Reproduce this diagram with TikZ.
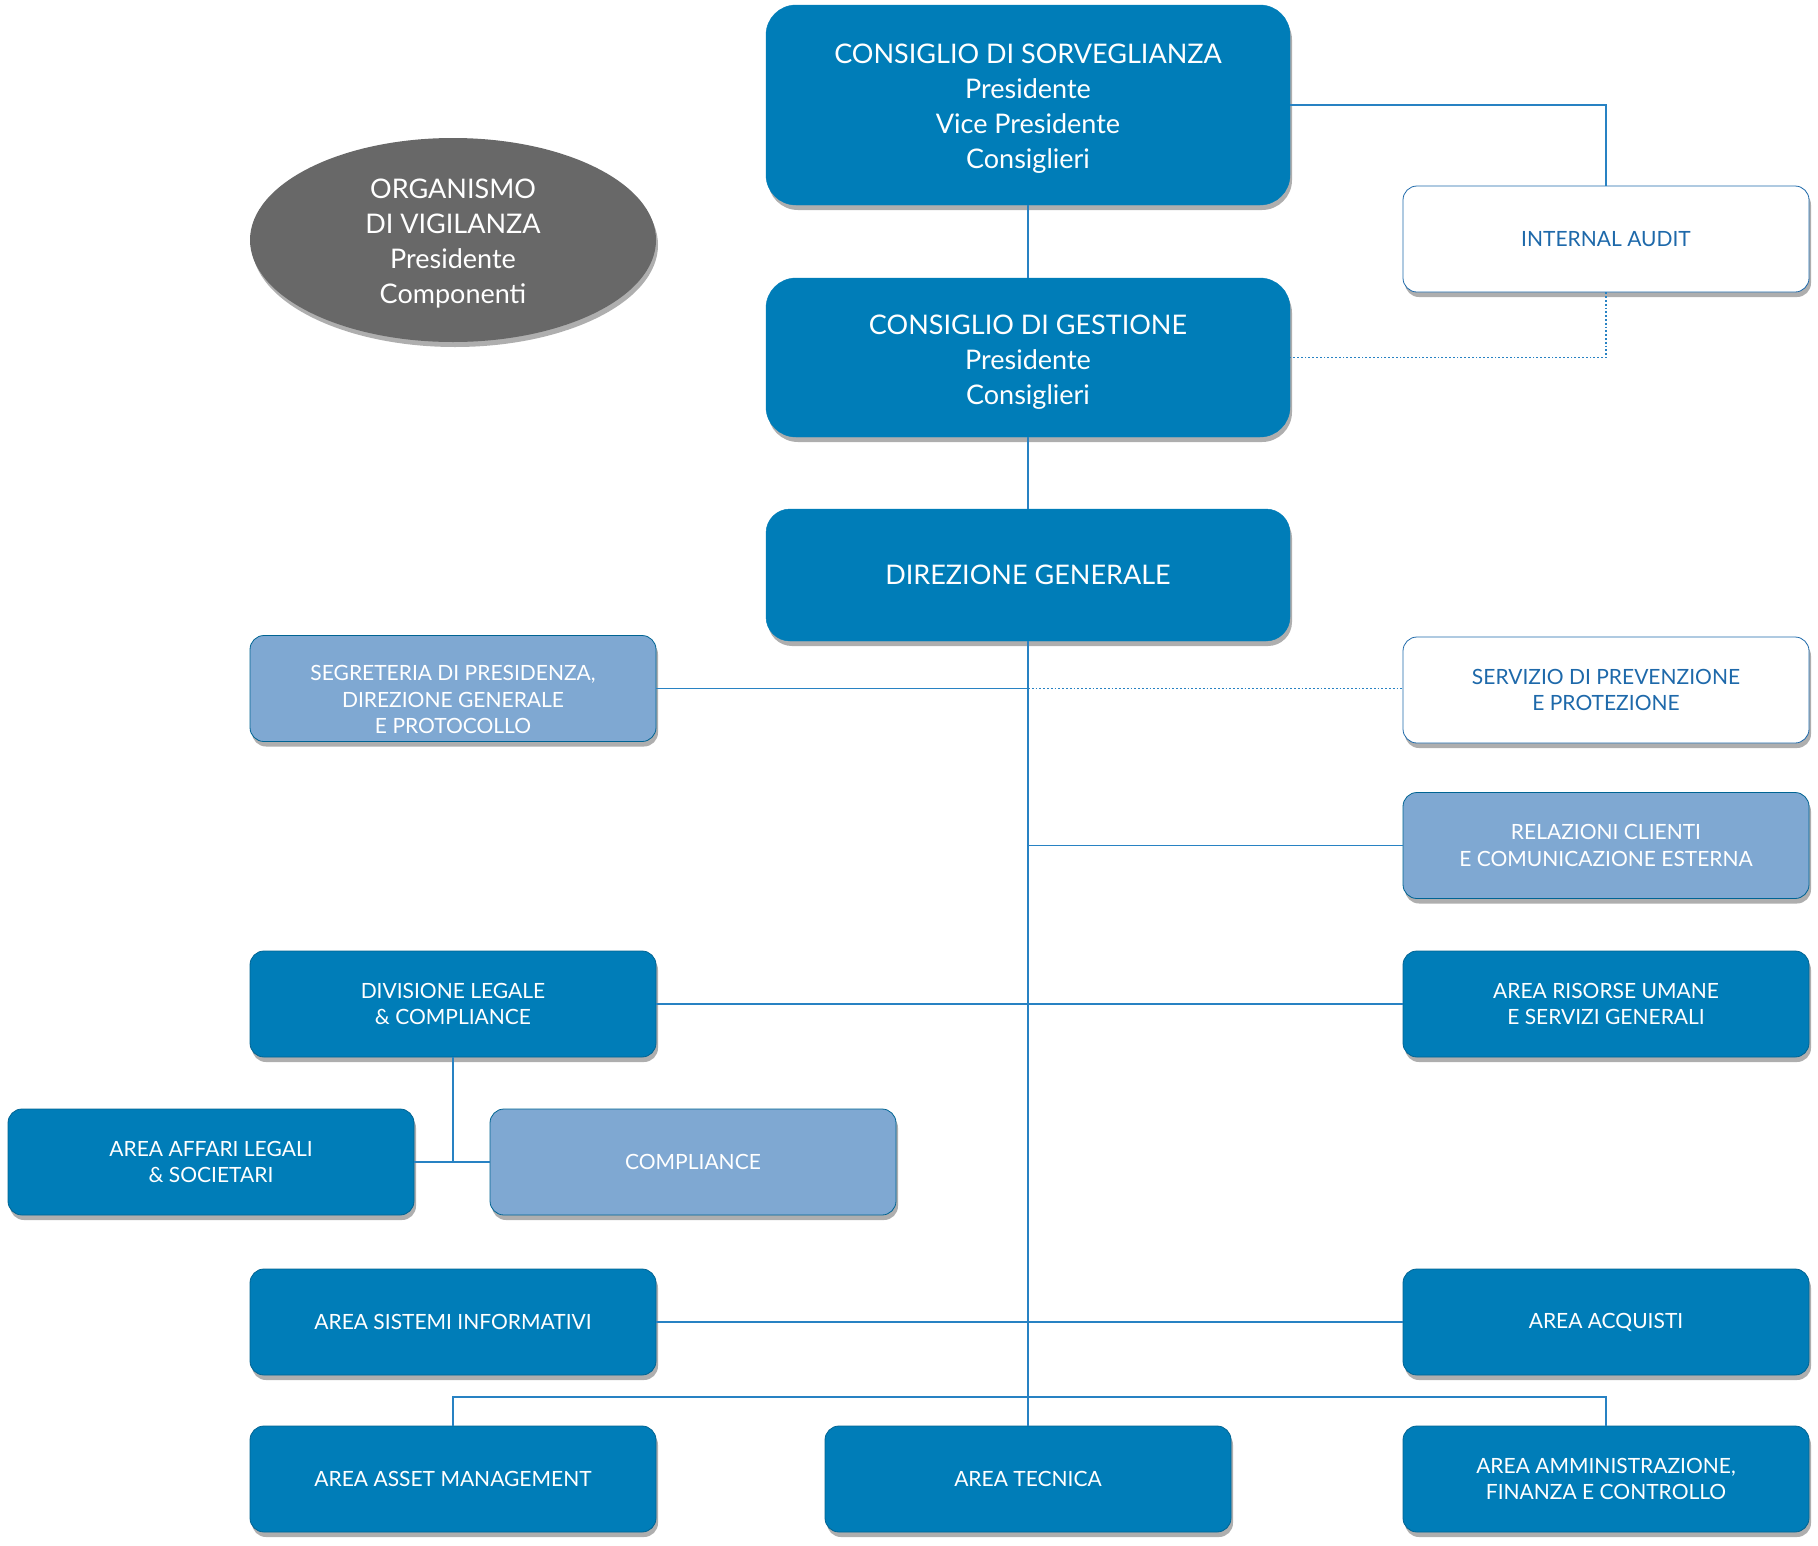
\documentclass[tikz,border=0pt]{standalone}
\usepackage{fontspec}
\setmainfont{Lato}
\usetikzlibrary{shapes.geometric,shadows,calc}
\definecolor{dkblue}{RGB}{0,125,184}
\definecolor{ltblue}{RGB}{127,168,210}
\definecolor{lnblue}{RGB}{40,130,195}
\definecolor{txblue}{RGB}{30,105,170}
\definecolor{orggray}{RGB}{104,104,104}
\newcommand{\downtext}[3]{\parbox{#1}{\vspace*{#2}\centering #3}}
\begin{document}
\begin{tikzpicture}[x=1pt,y=-1pt,
  shad/.style={drop shadow={shadow xshift=2pt,shadow yshift=-5pt,opacity=0.45,fill=black!70}},
  bigbox/.style={shad,rectangle,rounded corners=30pt,fill=dkblue,draw=dkblue,text=white,
     minimum width=524pt,align=center,font=\fontsize{27}{35}\selectfont},
  smallbox/.style={shad,rectangle,rounded corners=14pt,draw=dkblue!80!black,line width=0.8pt,
     minimum width=406pt,minimum height=106pt,align=center,font=\fontsize{21}{26.5}\selectfont},
  dkbox/.style={smallbox,fill=dkblue,text=white},
  ltbox/.style={smallbox,fill=ltblue,text=white},
  whbox/.style={smallbox,fill=white,text=txblue,draw=txblue},
  conn/.style={draw=lnblue,line width=1.4pt},
  dconn/.style={draw=lnblue,line width=1.8pt,dotted}]
\useasboundingbox (0,0) rectangle (1818,1545);
\fill[white] (0,0) rectangle (1818,1545);

% top
\node[bigbox,minimum height=200pt] (cds) at (1028,105)
  {\downtext{500pt}{7pt}{CONSIGLIO DI SORVEGLIANZA\\Presidente\\Vice Presidente\\Consiglieri}};
\node[bigbox,minimum height=159pt] (cdg) at (1028,357.5)
  {\downtext{500pt}{9pt}{CONSIGLIO DI GESTIONE\\Presidente\\Consiglieri}};
\node[bigbox,minimum height=132pt,rounded corners=24pt] (dg) at (1028,575)
  {DIREZIONE GENERALE};
\node[shad,ellipse,fill=orggray,text=white,minimum width=406pt,minimum height=204pt,
  inner sep=0pt,align=center,font=\fontsize{27}{35}\selectfont] (odv) at (453,240)
  {\downtext{200pt}{7pt}{ORGANISMO\\DI VIGILANZA\\Presidente\\Componenti}};
\node[whbox] (ia) at (1606,239) {INTERNAL AUDIT};

% staff
\node[ltbox] (seg) at (453,688.5) {\downtext{390pt}{22pt}{SEGRETERIA DI PRESIDENZA,\\DIREZIONE GENERALE\\E PROTOCOLLO}};
\node[whbox] (spp) at (1606,690) {SERVIZIO DI PREVENZIONE\\E PROTEZIONE};
\node[ltbox] (rel) at (1606,845.5) {RELAZIONI CLIENTI\\E COMUNICAZIONE ESTERNA};
\node[dkbox] (div) at (453,1004) {DIVISIONE LEGALE\\\& COMPLIANCE};
\node[dkbox] (hr) at (1606,1004) {AREA RISORSE UMANE\\E SERVIZI GENERALI};
\node[dkbox] (aff) at (211,1162) {AREA AFFARI LEGALI\\\& SOCIETARI};
\node[ltbox] (comp) at (693,1162) {COMPLIANCE};
\node[dkbox] (sis) at (453,1322) {AREA SISTEMI INFORMATIVI};
\node[dkbox] (acq) at (1606,1322) {AREA ACQUISTI};
\node[dkbox] (ass) at (453,1479) {AREA ASSET MANAGEMENT};
\node[dkbox] (tec) at (1028,1479) {AREA TECNICA};
\node[dkbox] (amm) at (1606,1479) {AREA AMMINISTRAZIONE,\\FINANZA E CONTROLLO};

\coordinate (bus) at (1028,1397);
\coordinate (segj) at (seg.east -| dg.south);
\coordinate (divj) at (div.south |- aff.east);

% connectors
\draw[conn] (cds.east) -| (ia.north);
\draw[dconn] (ia.south) |- (cdg.east);
\draw[conn] (cds.south) -- (cdg.north);
\draw[conn] (cdg.south) -- (dg.north);
\draw[conn] (dg.south) -- (tec.north);
\draw[conn] (seg.east) -- (segj);
\draw[dconn] (segj) -- (spp.west |- segj);
\draw[conn] (dg.south |- rel.west) -- (rel.west);
\draw[conn] (div.east) -- (hr.west);
\draw[conn] (div.south) -- (divj);
\draw[conn] (aff.east) -- (comp.west);
\draw[conn] (sis.east) -- (acq.west);
\draw[conn] (ass.north) |- (bus) -| (amm.north);
\end{tikzpicture}
\end{document}
